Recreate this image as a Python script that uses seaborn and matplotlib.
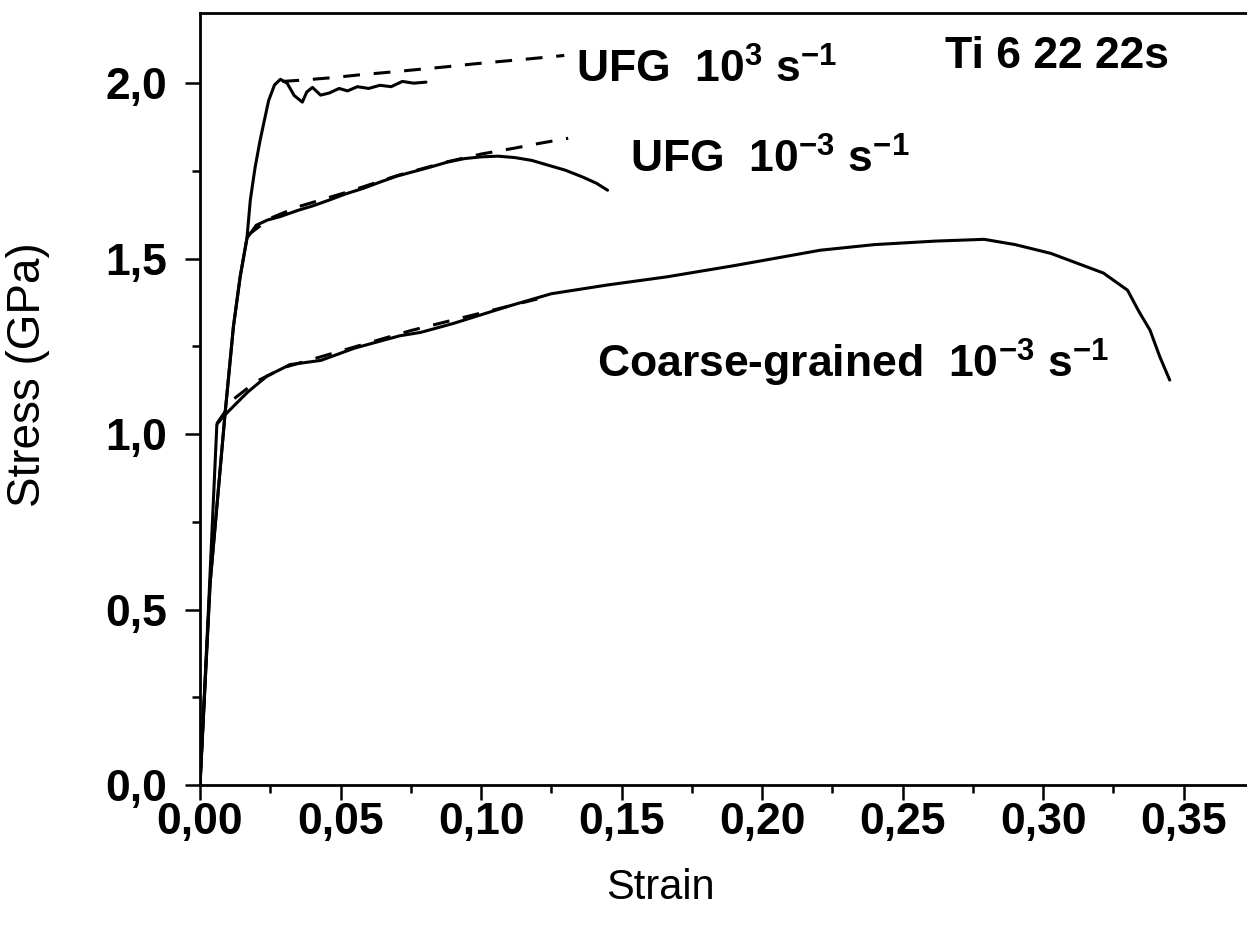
import numpy as np
import pandas as pd
import matplotlib
matplotlib.use("Agg")
import matplotlib.pyplot as plt
from matplotlib.ticker import MultipleLocator, FixedLocator, FixedFormatter
import seaborn as sns

# ---------------- data ----------------
ufg_dyn_strain = [0, 0.0036, 0.0089, 0.0119, 0.0143, 0.0167, 0.0179, 0.0196, 0.0214, 0.0244,
                  0.0265, 0.0286, 0.031, 0.0335, 0.0364, 0.038, 0.040, 0.0429, 0.046, 0.0495,
                  0.0525, 0.056, 0.060, 0.064, 0.068, 0.072, 0.076, 0.0804]
ufg_dyn_stress = [0, 0.575, 1.057, 1.307, 1.449, 1.558, 1.667, 1.76, 1.838, 1.95,
                  1.995, 2.011, 2.0, 1.965, 1.946, 1.975, 1.988, 1.966, 1.972, 1.985,
                  1.978, 1.99, 1.985, 1.994, 1.99, 2.005, 2.0, 2.003]

ufg_dyn_fit_strain = [0.0293, 0.0368, 0.0475, 0.057, 0.067, 0.0775, 0.088, 0.0975, 0.107, 0.118, 0.1296]
ufg_dyn_fit_stress = [2.005, 2.009, 2.016, 2.024, 2.031, 2.039, 2.047, 2.055, 2.062, 2.070, 2.079]

ufg_qs_strain = [0, 0.0036, 0.0089, 0.0119, 0.0143, 0.0167, 0.020, 0.024, 0.0286, 0.035,
                 0.040, 0.046, 0.052, 0.058, 0.064, 0.070, 0.076, 0.082, 0.088, 0.094,
                 0.100, 0.106, 0.112, 0.118, 0.124, 0.130, 0.136, 0.141, 0.145]
ufg_qs_stress = [0, 0.575, 1.057, 1.307, 1.449, 1.558, 1.595, 1.61, 1.62, 1.638,
                 1.65, 1.667, 1.685, 1.70, 1.718, 1.735, 1.748, 1.761, 1.775, 1.785,
                 1.79, 1.792, 1.788, 1.78, 1.766, 1.752, 1.733, 1.715, 1.695]

ufg_qs_fit_strain = [0.0167, 0.025, 0.035, 0.0525, 0.0703, 0.088, 0.100, 0.112, 0.119, 0.131]
ufg_qs_fit_stress = [1.565, 1.615, 1.648, 1.690, 1.737, 1.776, 1.798, 1.815, 1.826, 1.843]

cg_strain = [0, 0.003, 0.006, 0.0083, 0.012, 0.017, 0.0238, 0.032, 0.043, 0.055,
             0.071, 0.0786, 0.09, 0.10, 0.11, 0.125, 0.145, 0.166, 0.19, 0.2207,
             0.24, 0.2617, 0.279, 0.29, 0.3027, 0.3214, 0.330, 0.334, 0.338, 0.3415, 0.345]
cg_stress = [0, 0.5, 1.028, 1.05, 1.08, 1.12, 1.165, 1.198, 1.21, 1.245,
             1.28, 1.29, 1.315, 1.34, 1.365, 1.40, 1.425, 1.448, 1.48, 1.524,
             1.54, 1.55, 1.555, 1.54, 1.515, 1.459, 1.41, 1.35, 1.296, 1.22, 1.154]

cg_fit_strain = [0.006, 0.012, 0.02, 0.03, 0.045, 0.06, 0.075, 0.09, 0.105, 0.12]
cg_fit_stress = [1.03, 1.10, 1.15, 1.19, 1.225, 1.26, 1.295, 1.325, 1.355, 1.385]

xtick_values = [0.00, 0.05, 0.10, 0.15, 0.20, 0.25, 0.30, 0.35]
xtick_labels = ["0,00", "0,05", "0,10", "0,15", "0,20", "0,25", "0,30", "0,35"]
ytick_values = [0.0, 0.5, 1.0, 1.5, 2.0]
ytick_labels = ["0,0", "0,5", "1,0", "1,5", "2,0"]

label_ufg_dyn = r"UFG  10$^{3}$ s$^{-1}$"
label_ufg_qs = r"UFG  10$^{-3}$ s$^{-1}$"
label_cg = r"Coarse-grained  10$^{-3}$ s$^{-1}$"
label_alloy = "Ti 6 22 22s"

# ---------------- style ----------------
sns.set_style("ticks")
plt.rcParams["font.family"] = ["Liberation Sans", "DejaVu Sans"]
plt.rcParams["mathtext.fontset"] = "custom"
plt.rcParams["mathtext.rm"] = "Liberation Sans:bold"
plt.rcParams["mathtext.bf"] = "Liberation Sans:bold"
plt.rcParams["mathtext.it"] = "Liberation Sans:bold"
plt.rcParams["mathtext.sf"] = "Liberation Sans:bold"
for key in ["text.color", "axes.labelcolor", "axes.edgecolor", "xtick.color", "ytick.color"]:
    plt.rcParams[key] = "black"

fig = plt.figure(figsize=(12.47, 9.27), dpi=100)
ax = fig.add_axes([200 / 1247, 1 - 785 / 927, 1 - 200 / 1247, (785 - 13) / 927])

curves = [
    (ufg_dyn_strain, ufg_dyn_stress, "-"),
    (ufg_qs_strain, ufg_qs_stress, "-"),
    (cg_strain, cg_stress, "-"),
    (ufg_dyn_fit_strain, ufg_dyn_fit_stress, (0, (5.5, 4.5))),
    (ufg_qs_fit_strain, ufg_qs_fit_stress, (0, (5.5, 4.5))),
    (cg_fit_strain, cg_fit_stress, (0, (5.5, 4.5))),
]
for xs, ys, ls in curves:
    df = pd.DataFrame({"strain": xs, "stress": ys})
    sns.lineplot(data=df, x="strain", y="stress", sort=False, estimator=None,
                 color="black", linewidth=2.2, linestyle=ls, ax=ax)

ax.set_xlim(0, 0.3725)
ax.set_ylim(0, 2.2)

ax.xaxis.set_major_locator(FixedLocator(xtick_values))
ax.xaxis.set_major_formatter(FixedFormatter(xtick_labels))
ax.xaxis.set_minor_locator(MultipleLocator(0.025))
ax.yaxis.set_major_locator(FixedLocator(ytick_values))
ax.yaxis.set_major_formatter(FixedFormatter(ytick_labels))
ax.yaxis.set_minor_locator(MultipleLocator(0.25))

ax.spines["right"].set_visible(False)
for s in ["left", "bottom", "top"]:
    ax.spines[s].set_linewidth(2.0)
    ax.spines[s].set_color("black")
ax.tick_params(which="both", direction="out", top=False, right=False, width=1.8, colors="black")
ax.tick_params(which="major", length=10.5)
ax.tick_params(which="minor", length=5.5)
ax.tick_params(axis="x", which="major", pad=2, labelsize=32)
ax.tick_params(axis="y", which="major", pad=13, labelsize=32)
for lab in ax.get_xticklabels() + ax.get_yticklabels():
    lab.set_fontweight("bold")
    lab.set_color("black")

ax.set_xlabel("Strain", fontsize=30, color="black")
ax.set_ylabel("Stress (GPa)", fontsize=33, color="black")
ax.xaxis.set_label_coords((660 - 200) / 1047, (785 - 868) / 772)
ax.yaxis.set_label_coords((50 - 200) / 1047, (785 - 375) / 772)

ax.text(0.1339, 2.0, label_ufg_dyn, fontsize=32, fontweight="bold", ha="left", va="baseline", color="black")
ax.text(0.1529, 1.744, label_ufg_qs, fontsize=32, fontweight="bold", ha="left", va="baseline", color="black")
ax.text(0.1414, 1.162, label_cg, fontsize=32, fontweight="bold", ha="left", va="baseline", color="black")
ax.text(0.2650, 2.043, label_alloy, fontsize=32, fontweight="bold", ha="left", va="baseline", color="black")

fig.savefig("out.png", dpi=100)
